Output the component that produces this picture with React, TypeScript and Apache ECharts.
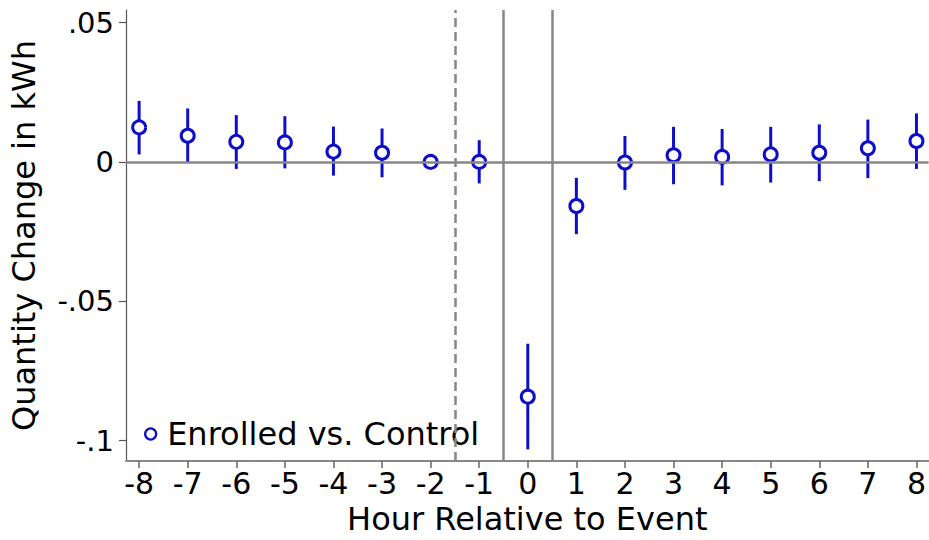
import React, { useEffect, useRef } from "react";
import * as echarts from "echarts";

// Hours relative to the event window
const hours = [-8, -7, -6, -5, -4, -3, -2, -1, 0, 1, 2, 3, 4, 5, 6, 7, 8];

// Point estimates (kWh), hour -2 is the omitted reference hour
const estimates = [
  0.0124, 0.0094, 0.0072, 0.007, 0.0037, 0.0033, 0, 0.0, -0.0842, -0.0158,
  -0.0002, 0.0024, 0.0018, 0.0027, 0.0033, 0.0049, 0.0075,
];

// Confidence interval bounds
const ciLow = [
  0.0027, -0.0001, -0.0025, -0.0023, -0.0049, -0.0055, null, -0.0077, -0.1031,
  -0.0259, -0.01, -0.008, -0.0084, -0.0074, -0.0069, -0.0058, -0.0025,
];
const ciHigh = [
  0.0219, 0.0192, 0.0168, 0.0164, 0.0127, 0.012, null, 0.0078, -0.0652,
  -0.0057, 0.0093, 0.0126, 0.0118, 0.0126, 0.0135, 0.0152, 0.0174,
];

// Y axis ticks and their labels
const yTickValues = [-0.1, -0.05, 0, 0.05];
const yTickLabels = ["-.1", "-.05", "0", ".05"];

// Reference lines
const preEventLine = -1.5;
const eventWindow = [-0.5, 0.5];

const seriesName = "Enrolled vs. Control";
const BLUE = "#0e0ec8";
const GRAY = "#878787";
const FONT = "DejaVu Sans";

export default function App() {
  const ref = useRef<HTMLDivElement>(null);

  useEffect(() => {
    if (!ref.current) return;
    const chart = echarts.init(ref.current, null, { renderer: "svg" });

    const ciData = hours
      .map((h, i) => [h, ciLow[i], ciHigh[i]])
      .filter((d) => d[1] !== null && d[2] !== null);

    chart.setOption({
      animation: false,
      backgroundColor: "#ffffff",
      textStyle: { fontFamily: FONT },
      grid: { left: 126, top: 10, right: 0, bottom: 76, containLabel: false },
      legend: {
        data: [seriesName],
        left: 139,
        top: 413,
        icon: "circle",
        itemWidth: 11,
        itemHeight: 11,
        itemStyle: {
          color: "#ffffff",
          borderColor: BLUE,
          borderWidth: 2.3,
          opacity: 1,
        },
        textStyle: {
          fontSize: 32,
          color: "#000",
          fontFamily: FONT,
          padding: [0, 0, 0, 6],
        },
      },
      xAxis: {
        type: "value",
        min: -8.27,
        max: 8.25,
        name: "Hour Relative to Event",
        nameLocation: "middle",
        nameGap: 39,
        nameTextStyle: { fontSize: 32, color: "#000", fontFamily: FONT },
        axisLine: {
          show: true,
          onZero: false,
          lineStyle: { color: GRAY, width: 2 },
        },
        axisTick: {
          show: true,
          customValues: hours,
          length: 7,
          lineStyle: { color: "#666", width: 1.5 },
        },
        axisLabel: {
          customValues: hours,
          fontSize: 30,
          color: "#000",
          margin: 7,
          fontFamily: FONT,
        },
        splitLine: { show: false },
      },
      yAxis: {
        type: "value",
        min: -0.1073,
        max: 0.0545,
        name: "Quantity Change in kWh",
        nameLocation: "middle",
        nameGap: 86,
        nameTextStyle: { fontSize: 32, color: "#000", fontFamily: FONT },
        axisLine: {
          show: true,
          onZero: false,
          lineStyle: { color: "#555", width: 1.2 },
        },
        axisTick: {
          show: true,
          customValues: yTickValues,
          length: 7,
          lineStyle: { color: "#555", width: 1.2 },
        },
        axisLabel: {
          customValues: yTickValues,
          fontSize: 29,
          color: "#000",
          margin: 12,
          fontFamily: FONT,
          formatter: (v: number) => {
            let best = 0;
            yTickValues.forEach((t, i) => {
              if (Math.abs(t - v) < Math.abs(yTickValues[best] - v)) best = i;
            });
            return yTickLabels[best];
          },
        },
        splitLine: { show: false },
      },
      series: [
        {
          name: "ci",
          type: "custom",
          z: 2,
          data: ciData,
          renderItem: (_params: any, api: any) => {
            const x = api.value(0);
            const top = api.coord([x, api.value(2)]);
            const bottom = api.coord([x, api.value(1)]);
            return {
              type: "line",
              shape: { x1: top[0], y1: top[1], x2: bottom[0], y2: bottom[1] },
              style: { stroke: BLUE, lineWidth: 3 },
            };
          },
          markLine: {
            silent: true,
            symbol: "none",
            label: { show: false },
            lineStyle: { color: GRAY, width: 2.5, type: "solid" },
            data: [
              { yAxis: 0 },
              {
                xAxis: preEventLine,
                lineStyle: { color: GRAY, width: 2.5, type: [9, 5] },
              },
              ...eventWindow.map((v) => ({ xAxis: v })),
            ],
          },
        },
        {
          name: seriesName,
          type: "scatter",
          z: 3,
          symbol: "circle",
          symbolSize: 13,
          itemStyle: {
            color: "#ffffff",
            borderColor: BLUE,
            borderWidth: 3,
            opacity: 1,
          },
          data: hours.map((h, i) => [h, estimates[i]]),
        },
      ],
    });

    return () => chart.dispose();
  }, []);

  return (
    <div
      ref={ref}
      style={{ position: "fixed", left: 0, top: 0, width: 929, height: 540 }}
    />
  );
}
